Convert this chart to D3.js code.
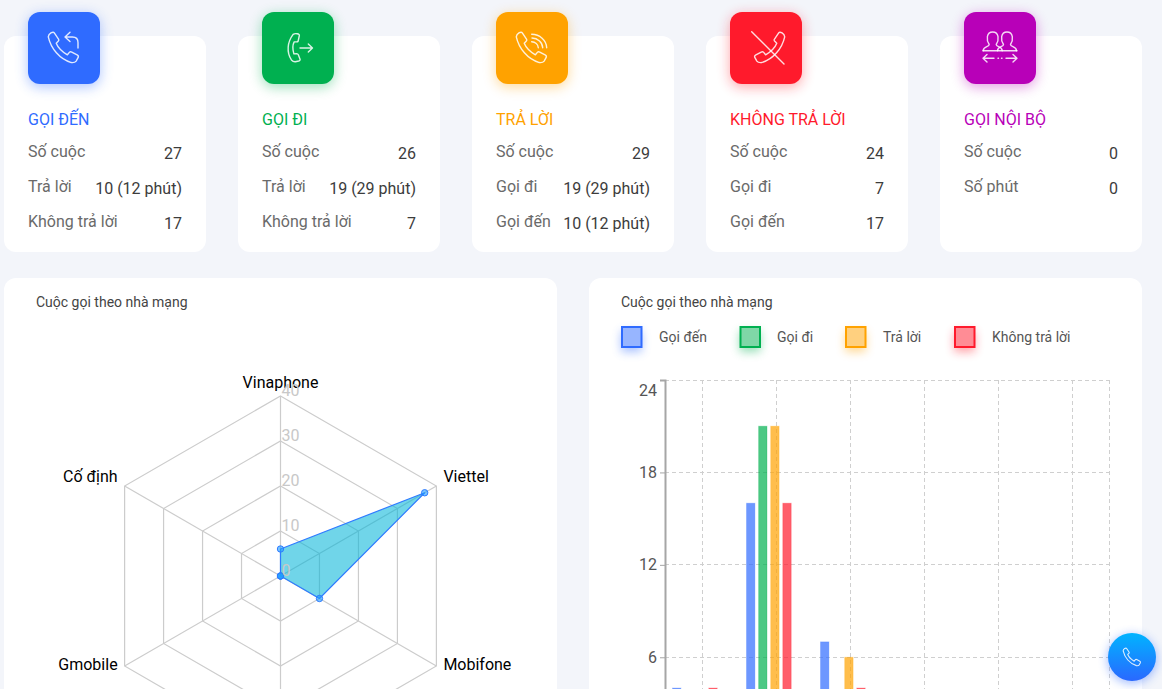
<!DOCTYPE html>
<html lang="vi">
<head>
<meta charset="utf-8">
<title>Thống kê cuộc gọi</title>
<script src="https://cdn.jsdelivr.net/npm/d3@7/dist/d3.min.js"></script>
<style>
  html, body { margin: 0; padding: 0; background: #f3f5fa; overflow: hidden; }
  svg { display: block; font-family: Roboto, sans-serif; }
</style>
</head>
<body>
<svg id="board" width="1162" height="689"></svg>
<script>
// Summary cards
const cardTitles = ["GỌI ĐẾN", "GỌI ĐI", "TRẢ LỜI", "KHÔNG TRẢ LỜI", "GỌI NỘI BỘ"];
const cardColors = ["#2f6bff", "#00b050", "#ffa200", "#ff1a2c", "#b800b8"];
const cardLabels = [
  ["Số cuộc", "Trả lời", "Không trả lời"],
  ["Số cuộc", "Trả lời", "Không trả lời"],
  ["Số cuộc", "Gọi đi", "Gọi đến"],
  ["Số cuộc", "Gọi đi", "Gọi đến"],
  ["Số cuộc", "Số phút"]
];
const cardValues = [
  ["27", "10 (12 phút)", "17"],
  ["26", "19 (29 phút)", "7"],
  ["29", "19 (29 phút)", "10 (12 phút)"],
  ["24", "7", "17"],
  ["0", "0"]
];

// Calls per carrier
const panelTitle = "Cuộc gọi theo nhà mạng";
const carriers = ["Vinaphone", "Viettel", "Mobifone", "Vietnamobile", "Gmobile", "Cố định"];
const radarValues = [6, 37, 10, 0, 0, 0];
const radarTicks = [0, 10, 20, 30, 40];

const seriesNames = ["Gọi đến", "Gọi đi", "Trả lời", "Không trả lời"];
const incoming = [4, 16, 7, 0, 0, 0];
const outgoing = [2, 21, 3, 0, 0, 0];
const answered = [2, 21, 6, 0, 0, 0];
const missed = [4, 16, 4, 0, 0, 0];
const barSeries = [incoming, outgoing, answered, missed];
const barTicks = [6, 12, 18, 24];

const svg = d3.select("#board");
const defs = svg.append("defs");

// Soft coloured halo shared by tiles, legend swatches and the call button
defs.append("filter").attr("id", "halo")
  .attr("x", "-60%").attr("y", "-60%").attr("width", "220%").attr("height", "220%")
  .append("feGaussianBlur").attr("stdDeviation", 6.5);
defs.append("filter").attr("id", "haloSmall")
  .attr("x", "-100%").attr("y", "-100%").attr("width", "300%").attr("height", "300%")
  .append("feGaussianBlur").attr("stdDeviation", 5);

const buttonGradient = defs.append("linearGradient").attr("id", "callButton")
  .attr("x1", 0).attr("y1", 0).attr("x2", 0).attr("y2", 1);
buttonGradient.append("stop").attr("offset", "0%").attr("stop-color", "#00b4ff");
buttonGradient.append("stop").attr("offset", "100%").attr("stop-color", "#2a68ff");

// Slim handset outline on a 32-unit grid, shared by every phone glyph
const handset = "M0.3 5Q0.5 2.5 3 1Q5.5 -0.5 6.5 1L11 7.5Q11.5 8.5 10.5 9.5L8.5 11.5Q11 18 20 23.5L22 21Q23 20 24.5 20.7" +
  "L30 23.5Q32 24.5 31 26.5L29 30Q27.5 32 24 31.5C12 28 3 17 0.3 5Z";

function glyphStroke(sel, width = 1.4) {
  return sel.attr("fill", "none").attr("stroke", "#fff").attr("stroke-opacity", 0.85)
    .attr("stroke-width", width).attr("stroke-linecap", "round").attr("stroke-linejoin", "round")
    .attr("vector-effect", "non-scaling-stroke");
}
function phone(g, transform) {
  glyphStroke(g.append("path").attr("d", handset).attr("transform", transform));
}
function extra(g, d) { glyphStroke(g.append("path").attr("d", d)); }

function person(cx) {
  return `M${cx - 9.5} 38.7C${cx - 9.5} 34.5 ${cx - 3.5} 35 ${cx - 3.5} 32.5` +
         `C${cx - 6.5} 28 ${cx - 6.5} 20 ${cx} 20C${cx + 6.5} 20 ${cx + 6.5} 28 ${cx + 3.5} 32.5` +
         `C${cx + 3.5} 35 ${cx + 9.5} 34.5 ${cx + 9.5} 38.7`;
}

const glyphs = [
  g => { // incoming
    phone(g, "translate(20,20) scale(0.97)");
    extra(g, "M50 36V30.5Q50 25 44.5 25H37M42 20.3L37 25L42 29.5");
  },
  g => { // outgoing
    phone(g, "translate(34,36) scale(1.2,1) rotate(45) scale(0.72) translate(-16,-16)");
    extra(g, "M38 36H50.5M46.3 32L50.5 36L46.3 40");
  },
  g => { // answered
    phone(g, "translate(20,20) scale(0.97)");
    extra(g, "M35.7 22.3A15 14 0 0 1 50.7 35.7M36 26A11 10 0 0 1 46.7 35.7M35.7 29.7A7 6.5 0 0 1 42.3 35.7");
  },
  g => { // unanswered
    phone(g, "translate(55,20) scale(-0.97,0.97)");
    extra(g, "M21.7 19.7L54 52");
  },
  g => { // internal
    extra(g, person(28.7));
    extra(g, person(43));
    extra(g, "M19 38.7H53");
    extra(g, "M19 46.3H30M23 42.5L19 46.3L23 50M53 46.3H42M49 42.5L53 46.3L49 50M34 46.3H34.5M37.5 46.3H38");
  }
];

// Cards
const cardX = d3.scaleLinear().domain([0, 1]).range([4, 238]);
cardTitles.forEach((title, i) => {
  const x0 = cardX(i);
  const card = svg.append("g").attr("transform", `translate(${x0},36)`);
  card.append("rect").attr("width", 202).attr("height", 216).attr("rx", 12).attr("fill", "#fff");

  const tile = card.append("g").attr("transform", "translate(24,-24)");
  tile.append("rect").attr("y", 3).attr("width", 72).attr("height", 72).attr("rx", 12)
    .attr("fill", cardColors[i]).attr("opacity", 0.4).attr("filter", "url(#halo)");
  tile.append("rect").attr("width", 72).attr("height", 72).attr("rx", 12).attr("fill", cardColors[i]);
  glyphs[i](tile);

  card.append("text").attr("x", 24).attr("y", 89).attr("font-size", 16)
    .attr("fill", cardColors[i]).text(title);

  cardLabels[i].forEach((label, r) => {
    card.append("text").attr("x", 24).attr("y", 121 + r * 35).attr("font-size", 16)
      .attr("fill", "#6a6a6a").text(label);
    card.append("text").attr("x", 178).attr("y", 123 + r * 35).attr("font-size", 16)
      .attr("text-anchor", "end").attr("fill", "#3c3c3c").text(cardValues[i][r]);
  });
});

// Panels
[[4, 36], [589, 621]].forEach(([px, tx]) => {
  svg.append("rect").attr("x", px).attr("y", 278).attr("width", 553).attr("height", 520)
    .attr("rx", 12).attr("fill", "#fff");
  svg.append("text").attr("x", tx).attr("y", 307).attr("font-size", 14)
    .attr("fill", "#444").text(panelTitle);
});

// Radar chart
const radar = svg.append("g").attr("transform", "translate(280.5,576)");
const rScale = d3.scaleLinear().domain([0, 40]).range([0, 180]);
const angle = d3.scalePoint().domain(d3.range(carriers.length + 1))
  .range([0, 2 * Math.PI]);
const ring = d3.lineRadial().angle((d, i) => angle(i)).radius(d => rScale(d)).curve(d3.curveLinearClosed);

radarTicks.slice(1).forEach(t => {
  radar.append("path").attr("d", ring(carriers.map(() => t)))
    .attr("fill", "none").attr("stroke", "#cccccc").attr("stroke-width", 1.2);
});
carriers.forEach((c, i) => {
  const [x, y] = d3.pointRadial(angle(i), rScale(40));
  radar.append("line").attr("x2", x).attr("y2", y).attr("stroke", "#cccccc").attr("stroke-width", 1.2);
});

const radarLabelStyle = [
  { dx: 0, dy: -8, anchor: "middle" },
  { dx: 7, dy: -4, anchor: "start" },
  { dx: 7, dy: 4, anchor: "start" },
  { dx: 0, dy: 20, anchor: "middle" },
  { dx: -7, dy: 4, anchor: "end" },
  { dx: -7, dy: -4, anchor: "end" }
];
carriers.forEach((c, i) => {
  const [x, y] = d3.pointRadial(angle(i), rScale(40));
  const s = radarLabelStyle[i];
  if (576 + y + s.dy > 689) return;
  radar.append("text").attr("x", x + s.dx).attr("y", y + s.dy).attr("font-size", 16)
    .attr("text-anchor", s.anchor).attr("fill", "#000").text(c);
});

radar.append("path").attr("d", ring(radarValues))
  .attr("fill", "#00b4d8").attr("fill-opacity", 0.56)
  .attr("stroke", "#2f7bff").attr("stroke-width", 1.2);
radar.selectAll("circle").data(radarValues).join("circle")
  .attr("cx", (d, i) => d3.pointRadial(angle(i), rScale(d))[0])
  .attr("cy", (d, i) => d3.pointRadial(angle(i), rScale(d))[1])
  .attr("r", 3.2).attr("fill", "#1e9cff").attr("fill-opacity", 0.6)
  .attr("stroke", "#2f7bff");

radarTicks.forEach(t => {
  radar.append("text").attr("x", 1).attr("y", -rScale(t)).attr("font-size", 16)
    .attr("fill", "#c8c8c8").text(t);
});

// Legend
const legendX = [621, 739.5, 845, 954];
const legendTextX = [659, 777, 883, 992];
seriesNames.forEach((name, i) => {
  const g = svg.append("g").attr("transform", `translate(${legendX[i]},326)`);
  g.append("rect").attr("y", 5).attr("width", 21).attr("height", 21)
    .attr("fill", cardColors[i]).attr("opacity", 0.4).attr("filter", "url(#haloSmall)");
  g.append("rect").attr("x", 1).attr("y", 1).attr("width", 19.5).attr("height", 20)
    .attr("fill", "#fff");
  g.append("rect").attr("x", 1).attr("y", 1).attr("width", 19.5).attr("height", 20)
    .attr("fill", cardColors[i]).attr("fill-opacity", 0.5)
    .attr("stroke", cardColors[i]).attr("stroke-width", 2);
  svg.append("text").attr("x", legendTextX[i]).attr("y", 342).attr("font-size", 14)
    .attr("fill", "#555").text(name);
});

// Grouped bar chart
const x = d3.scaleBand().domain(carriers).range([665, 1109]);
const inner = d3.scaleBand().domain(seriesNames).range([7.5, 52.2]).paddingInner(0.305);
const y = d3.scaleLinear().domain([0, 24]).range([749.7, 380]);

const grid = svg.append("g").attr("stroke", "#cfcfcf").attr("stroke-dasharray", "4 3");
barTicks.forEach(t => {
  const gy = Math.floor(y(t)) + 0.5;
  grid.append("line").attr("x1", 665).attr("x2", 1109).attr("y1", gy).attr("y2", gy);
});
carriers.forEach(c => {
  const cx = Math.round(x(c) + x.bandwidth() / 2) + 0.5;
  grid.append("line").attr("x1", cx).attr("x2", cx).attr("y1", 380).attr("y2", 750);
});
grid.append("line").attr("x1", 1109.5).attr("x2", 1109.5).attr("y1", 380).attr("y2", 750);

seriesNames.forEach((name, s) => {
  svg.append("g").selectAll("rect").data(barSeries[s]).join("rect")
    .attr("x", (d, i) => x(carriers[i]) + inner(name))
    .attr("y", d => y(d))
    .attr("width", inner.bandwidth())
    .attr("height", d => y(0) - y(d))
    .attr("fill", cardColors[s]).attr("fill-opacity", 0.7)
    .attr("stroke", cardColors[s]).attr("stroke-opacity", 0.25);
});

const axis = svg.append("g").attr("transform", "translate(665,0)")
  .call(d3.axisLeft(y).tickValues(barTicks).tickSize(5).tickPadding(3));
axis.select(".domain").attr("stroke", "#a6a6a6").attr("stroke-width", 2);
axis.selectAll(".tick line").attr("stroke", "#a6a6a6");
axis.selectAll(".tick text").attr("font-family", "Roboto, sans-serif").attr("font-size", 16)
  .attr("fill", "#555")
  .attr("dy", d => d === 24 ? "0.94em" : "0.3em");

// Floating call button
const fab = svg.append("g").attr("transform", "translate(1132,657)");
fab.append("circle").attr("r", 25).attr("cy", 2).attr("fill", "#2a68ff").attr("opacity", 0.4)
  .attr("filter", "url(#haloSmall)");
fab.append("circle").attr("r", 24).attr("fill", "url(#callButton)");
glyphStroke(fab.append("path").attr("d", handset)
  .attr("transform", "translate(-9,-9) scale(0.56)"), 1.1);
</script>
</body>
</html>
